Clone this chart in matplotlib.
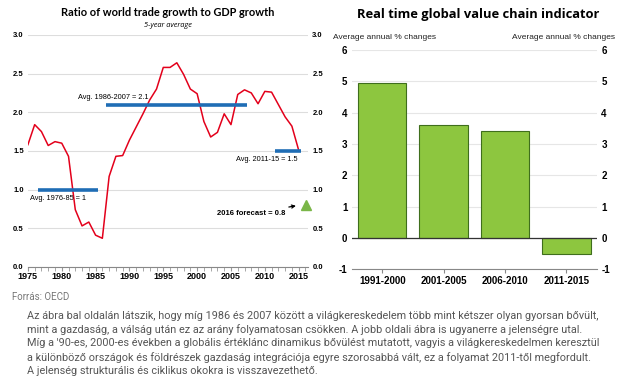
import matplotlib
matplotlib.use("Agg")
import matplotlib.pyplot as plt
from matplotlib.ticker import MultipleLocator

plt.rcParams['font.family'] = ['Liberation Sans Narrow', 'Liberation Sans', 'DejaVu Sans']
plt.rcParams['axes.unicode_minus'] = False

# left chart data: ratio of world trade growth to GDP growth (5-year average)
years = list(range(1975, 2016))
ratio = [1.58, 1.84, 1.75, 1.57, 1.62, 1.60, 1.43, 0.74, 0.53, 0.58,
         0.41, 0.37, 1.17, 1.43, 1.44, 1.64, 1.81, 1.98, 2.16, 2.30,
         2.58, 2.58, 2.64, 2.49, 2.30, 2.24, 1.88, 1.68, 1.74, 1.98,
         1.84, 2.23, 2.29, 2.25, 2.11, 2.27, 2.26, 2.10, 1.94, 1.82, 1.51]
avg_start = [1976, 1986, 2011]
avg_end = [1985, 2007, 2015]
avg_value = [1.0, 2.1, 1.5]
avg_labels = ["Avg. 1976-85 = 1", "Avg. 1986-2007 = 2.1", "Avg. 2011-15 = 1.5"]
forecast_year = 2016
forecast_value = 0.8

# right chart data: real time global value chain indicator
periods = ["1991-2000", "2001-2005", "2006-2010", "2011-2015"]
gvc = [4.94, 3.59, 3.40, -0.53]

note_source = "Forrás: OECD"
note_lines = [
    "Az ábra bal oldalán látszik, hogy míg 1986 és 2007 között a világkereskedelem több mint kétszer olyan gyorsan bővült,",
    "mint a gazdaság, a válság után ez az arány folyamatosan csökken. A jobb oldali ábra is ugyanerre a jelenségre utal.",
    "Míg a '90-es, 2000-es években a globális értéklánc dinamikus bővülést mutatott, vagyis a világkereskedelmen keresztül",
    "a különböző országok és földrészek gazdaság integrációja egyre szorosabbá vált, ez a folyamat 2011-től megfordult.",
    "A jelenség strukturális és ciklikus okokra is visszavezethető.",
]

fig = plt.figure(figsize=(6.2, 3.84), dpi=100)

# ---------------- left chart ----------------
ax = fig.add_axes([0.045, 0.305, 0.452, 0.604])
ax.plot(years, ratio, color="#e3001b", lw=1.1, zorder=3)
for s, e, v in zip(avg_start, avg_end, avg_value):
    ax.plot([s + 0.5, e + 0.4], [v, v], color="#1f6db5", lw=2.6, solid_capstyle="butt", zorder=4)
ax.plot([forecast_year + 0.1], [forecast_value], marker="^", color="#7ab648", ms=7, ls="none",
        zorder=5, clip_on=False)

ax.text(avg_start[0] - 0.7, avg_value[0] - 0.07, avg_labels[0], fontsize=5.3, va="top", ha="left")
ax.text(avg_start[1] - 3.6, avg_value[1] + 0.05, avg_labels[1], fontsize=5.3, va="bottom", ha="left")
ax.text(avg_end[2] - 0.1, avg_value[2] - 0.07, avg_labels[2], fontsize=5.3, va="top", ha="right")
ax.annotate("2016 forecast = 0.8", xy=(2014.6, 0.79),
            xytext=(2013.0, 0.69), fontsize=5.5, fontweight="bold", ha="right", va="center",
            arrowprops=dict(arrowstyle="->", color="black", lw=0.9, shrinkA=1, shrinkB=0))

ax.set_xlim(1975, 2016.4)
ax.set_ylim(0, 3.0)
ax.set_xticks(range(1975, 2016, 5))
ax.xaxis.set_minor_locator(MultipleLocator(1))
ax.set_yticks([0, 0.5, 1.0, 1.5, 2.0, 2.5, 3.0])
ax.set_yticklabels(["0.0", "0.5", "1.0", "1.5", "2.0", "2.5", "3.0"])
ax.tick_params(axis="y", which="both", length=0, labelsize=5.5, labelright=True, pad=3)
ax.tick_params(axis="x", which="major", length=3, direction="out", color="#999999", labelsize=6.5, pad=1)
ax.tick_params(axis="x", which="minor", length=3, direction="out", color="#999999")
for lbl in ax.get_xticklabels() + ax.get_yticklabels():
    lbl.set_fontweight("bold")
ax.grid(axis="y", color="#dddddd", lw=0.8)
ax.set_axisbelow(True)
for sp in ["top", "left", "right"]:
    ax.spines[sp].set_visible(False)
ax.spines["bottom"].set_color("#888888")

fig.text(0.271, 0.968, "Ratio of world trade growth to GDP growth", fontsize=7.9, fontweight="bold",
         ha="center", va="center", family=["Lato", "DejaVu Sans"])
fig.text(0.271, 0.934, "5-year average", fontsize=5.3, style="italic", ha="center", va="center",
         family=["Open Sans", "DejaVu Sans"])

# ---------------- right chart ----------------
bx = fig.add_axes([0.567, 0.299, 0.396, 0.571])
pos = range(len(periods))
bx.bar(pos, gvc, width=0.79, color="#8dc63f", edgecolor="#3f6e1c", lw=0.8, zorder=3)
bx.axhline(0, color="#333333", lw=0.9, zorder=4)
bx.set_xlim(-0.5, 3.5)
bx.set_ylim(-1, 6)
bx.set_xticks(list(pos))
bx.set_xticklabels(periods)
bx.set_yticks(range(-1, 7))
bx.tick_params(axis="y", length=0, labelsize=7, labelright=True, pad=3)
bx.tick_params(axis="x", length=3, color="#888888", labelsize=7, pad=2)
for lbl in bx.get_xticklabels() + bx.get_yticklabels():
    lbl.set_fontweight("bold")
bx.grid(axis="y", color="#e6e6e6", lw=0.8)
bx.set_axisbelow(True)
for sp in ["top", "left", "right"]:
    bx.spines[sp].set_visible(False)
bx.spines["bottom"].set_color("#888888")

fig.text(0.772, 0.963, "Real time global value chain indicator", fontsize=9.3, fontweight="bold",
         ha="center", va="center", family=["Open Sans", "DejaVu Sans"])
fig.text(0.537, 0.902, "Average annual % changes", fontsize=6, ha="left", va="center",
         family=["Liberation Sans", "DejaVu Sans"], color="#222222")
fig.text(0.992, 0.902, "Average annual % changes", fontsize=6, ha="right", va="center",
         family=["Liberation Sans", "DejaVu Sans"], color="#222222")

# ---------------- notes ----------------
fig.text(0.019, 1 - 297 / 384, note_source, fontsize=7, color="#777777", va="center",
         family=["Roboto", "DejaVu Sans"])
for i, line in enumerate(note_lines):
    fig.text(0.044, 1 - (316 + i * 13.7) / 384, line, fontsize=7.8, color="#555555", va="center",
             family=["Roboto", "DejaVu Sans"])

fig.savefig("out.png", dpi=100)
